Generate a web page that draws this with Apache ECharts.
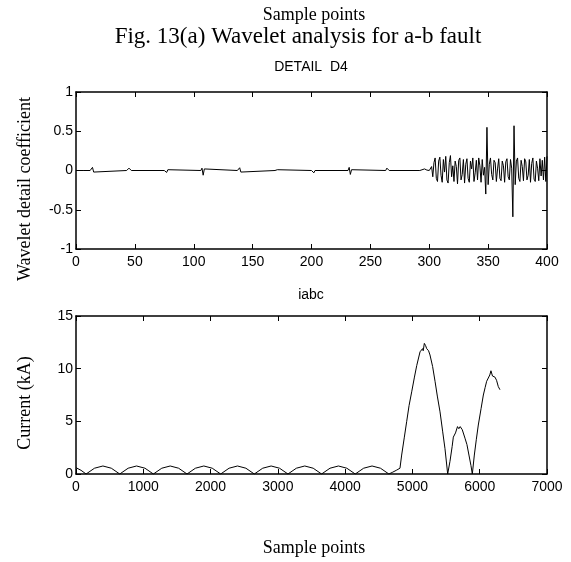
<!DOCTYPE html>
<html>
<head>
<meta charset="utf-8">
<script src="https://cdn.jsdelivr.net/npm/echarts@6/dist/echarts.min.js"></script>
<style>
html,body{margin:0;padding:0;background:#fff;}
#chart{width:571px;height:562px;}
</style>
</head>
<body>
<div id="chart"></div>
<script>
// ---- DETAIL D4 (wavelet detail coefficients) ----
var d4Samples = [0,2,3,4,5,6,12,13,14,15,16,43,44,45,46,47,75,76,77,78,79,106,107,108,109,110,137,138,139,140,141,169,170,171,172,200,201,202,203,231,232,233,234,235,263,264,265,266,292,293,296,298,300,301,302,
303,304,305,306,307,308,309,310,311,312,313,314,315,316,317,318,319,320,321,322,323,324,325,326,327,328,329,330,331,332,333,334,335,336,337,338,339,340,341,342,343,344,345,346,347,348,349,350,
351,352,353,354,355,356,357,358,359,360,361,362,363,364,365,366,367,368,369,370,371,372,373,374,375,376,377,378,379,380,381,382,383,384,385,386,387,388,389,390,391,392,393,394,395,396,397,398,399,400];
var d4Values = [0,0,0.015,0,0.01,0,0,-0.02,0.04,-0.02,0,0,0.02,0.03,0.005,0,0,0.02,-0.025,0.01,0,0,0.03,-0.06,0.02,0,0,0.02,0.035,-0.02,0,0,0.025,0.01,0,0,0.025,-0.03,0,0,0.04,-0.05,0.01,0,0,0.03,0.035,0,0,0.015,0.02,0.005,0,-0.02,0.05,
-0.08,0.10,0.16,-0.10,-0.14,0.12,0.17,-0.06,-0.15,0.14,-0.02,0.18,-0.12,-0.16,0.10,0.19,-0.08,0.06,-0.14,0.12,0.05,-0.17,0.13,0.16,-0.12,-0.05,0.14,-0.16,0.08,0.15,-0.10,-0.15,0.12,0.02,0.16,-0.14,-0.03,0.13,-0.12,0.16,0.06,-0.15,0.14,-0.06,0.04,-0.30,0.55,-0.18,
0.08,0.16,-0.05,-0.12,0.13,0.10,-0.14,0.02,0.15,-0.10,-0.13,0.12,0.06,-0.15,0.11,0.15,-0.08,-0.12,0.14,0.03,-0.59,0.57,-0.18,0.12,0.16,-0.10,-0.14,0.13,0.05,-0.13,0.15,0.11,-0.12,-0.06,0.14,-0.15,0.09,0.16,-0.11,-0.14,0.12,0.03,-0.13,0.15,-0.07,0.13,-0.12,0.17,-0.14,0.18];

// ---- iabc (current, kA) ----
var iabcSamples = [0,75,150,275,400,525,650,775,900,1025,1150,1275,1400,1525,1650,1775,1900,2025,2150,2275,2400,2525,2650,2775,2900,3025,3150,3275,3400,3525,3650,3775,3900,4025,4150,4275,4400,4525,4650,4700,4760,4815,4840,4880,4915,4950,4989,5030,5064,5113,5150,5160,5177,5195,5212,5240,5261,5300,5336,5370,5410,5450,5484,5524,5558,5590,5608,5640,5670,5690,5710,5741,5781,5810,5840,5870,5890,5920,5950,5979,6020,6054,6080,6103,6130,6150,6167,6190,6210,6226,6250,6276,6301];
var iabcValues = [0.6,0.35,0,0.55,0.76,0.55,0,0.55,0.76,0.55,0,0.55,0.76,0.55,0,0.55,0.76,0.55,0,0.55,0.76,0.55,0,0.55,0.76,0.55,0,0.55,0.76,0.55,0,0.55,0.76,0.55,0,0.55,0.76,0.55,0,0.15,0.35,0.55,1.8,3.5,5.0,6.5,7.8,9.2,10.3,11.6,11.9,11.7,12.4,12.2,11.9,11.7,11.3,10.2,8.8,7.4,5.9,4.0,2.4,0,1.2,2.6,3.5,3.9,4.5,4.3,4.5,4.2,3.4,2.8,1.8,0.8,0,1.8,3.3,4.65,6.2,7.5,8.2,8.8,8.9,9.4,9.8,9.3,9.4,9.2,8.9,8.3,8.0];

var d4XTicks = {min:0, max:400, interval:50};
var d4YTicks = {min:-1, max:1, interval:0.5};
var iabcXTicks = {min:0, max:7000, interval:1000};
var iabcYTicks = {min:0, max:15, interval:5};

function pairs(xs, ys){ var out=[]; for(var i=0;i<xs.length;i++) out.push([xs[i], ys[i]]); return out; }

var SANS = 'Liberation Sans, Arial, sans-serif';
var SERIF = 'Liberation Serif, Times New Roman, serif';
var axisLine = {show:true, onZero:false, lineStyle:{color:'#000', width:1.5}};
var tickIn = {show:true, inside:true, length:5, lineStyle:{color:'#000', width:1}};
var plain = function(v){ return String(v); };

function xMain(gi, t){ return {type:'value', gridIndex:gi, position:'bottom', min:t.min, max:t.max, interval:t.interval,
  axisLine:axisLine, axisTick:tickIn, axisLabel:{margin:6, color:'#000', fontFamily:SANS, fontSize:14, formatter:plain}, splitLine:{show:false}}; }
function xMirror(gi, t){ return {type:'value', gridIndex:gi, position:'top', min:t.min, max:t.max, interval:t.interval,
  axisLine:axisLine, axisTick:tickIn, axisLabel:{show:false}, splitLine:{show:false}}; }
function yMain(gi, t){ return {type:'value', gridIndex:gi, position:'left', min:t.min, max:t.max, interval:t.interval,
  axisLine:axisLine, axisTick:tickIn, axisLabel:{margin:3, color:'#000', fontFamily:SANS, fontSize:14, formatter:plain}, splitLine:{show:false}}; }
function yMirror(gi, t){ return {type:'value', gridIndex:gi, position:'right', min:t.min, max:t.max, interval:t.interval,
  axisLine:axisLine, axisTick:tickIn, axisLabel:{show:false}, splitLine:{show:false}}; }

function txt(s, x, y, font, size, rot){
  return {type:'text', x:x, y:y, rotation:rot||0, silent:true,
    style:{text:s, fill:'#000', font:size+'px '+font, textAlign:'center', textVerticalAlign:'middle'}};
}

var chart = echarts.init(document.getElementById('chart'), null, {renderer:'canvas'});
chart.setOption({
  backgroundColor:'#fff',
  animation:false,
  grid:[
    {left:76, top:92, width:471, height:157},
    {left:76, top:316, width:471, height:158}
  ],
  xAxis:[xMain(0,d4XTicks), xMirror(0,d4XTicks), xMain(1,iabcXTicks), xMirror(1,iabcXTicks)],
  yAxis:[yMain(0,d4YTicks), yMirror(0,d4YTicks), yMain(1,iabcYTicks), yMirror(1,iabcYTicks)],
  graphic:[
    txt('Sample points', 314, 15, SERIF, 18),
    txt('Fig. 13(a) Wavelet analysis for a-b fault', 298, 37, SERIF, 23),
    txt('DETAIL  D4', 311, 67, SANS, 14),
    txt('iabc', 311, 295, SANS, 14),
    txt('Sample points', 314, 548, SERIF, 18),
    txt('Wavelet detail coefficient', 25, 189, SERIF, 18, Math.PI/2),
    txt('Current (kA)', 25, 403, SERIF, 18, Math.PI/2)
  ],
  series:[
    {type:'line', xAxisIndex:0, yAxisIndex:0, data:pairs(d4Samples,d4Values), showSymbol:false, lineStyle:{color:'#000', width:1}},
    {type:'line', xAxisIndex:2, yAxisIndex:2, data:pairs(iabcSamples,iabcValues), showSymbol:false, lineStyle:{color:'#000', width:1}}
  ]
});
</script>
</body>
</html>
